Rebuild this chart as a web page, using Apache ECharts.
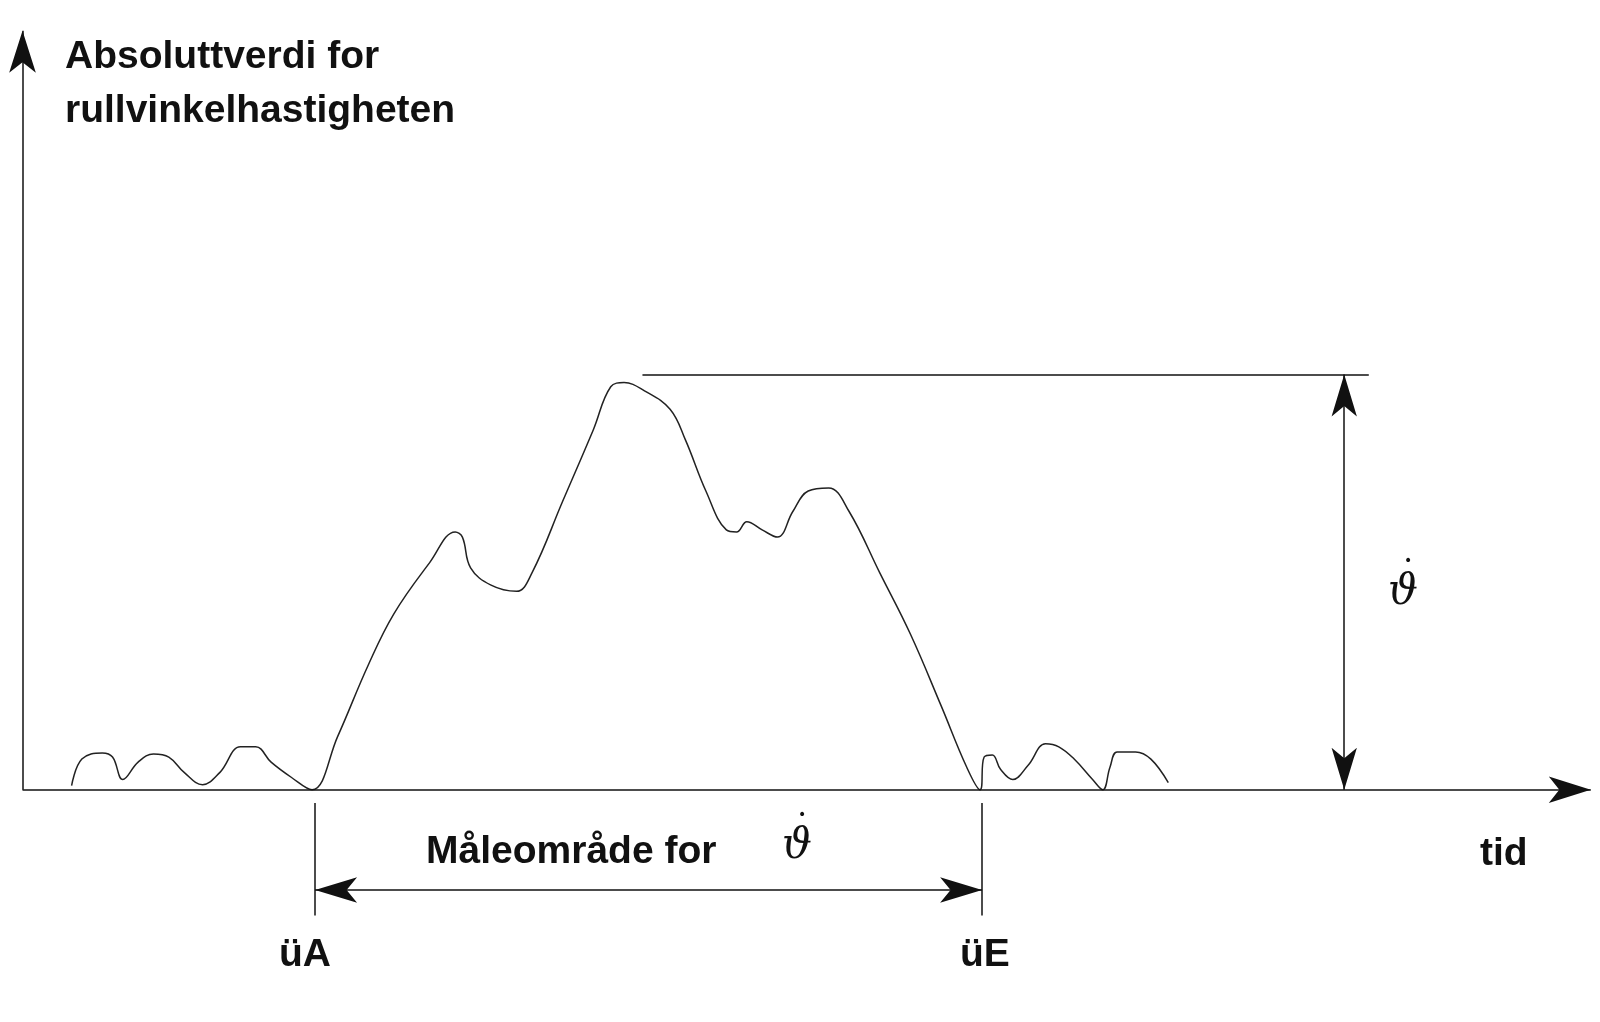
<!DOCTYPE html>
<html>
<head>
<meta charset="utf-8">
<script src="https://cdn.jsdelivr.net/npm/echarts@6/dist/echarts.min.js"></script>
<style>html,body{margin:0;background:#fff}#main{width:1600px;height:1022px}</style>
</head>
<body>
<div id="main"></div>
<script>
// signal curve, x = time, y = absolute roll rate (origin at the axis crossing)
const curveX = [48,58,78,88,98,113,128,143,158,176,193,213,228,243,263,283,308,338,363,398,423,430,438,458,483,498,528,558,575,588,608,633,648,668,688,698,708,723,738,753,768,788,808,838,868,898,923,936,940,948,956,968,983,1000,1013,1028,1046,1056,1063,1070,1088,1103,1120];
const curveY = [4,30,36,32,10,27,35,32,17,5,17,42,42,27,12,0,52,122,172,222,252,247,217,200,194,212,282,352,394,398,390,372,342,292,254,252,262,254,247,272,292,295,272,212,152,82,22,0,32,34,20,10,24,45,42,30,10,0,22,37,37,30,7];

// annotation lines: [x1, y1, x2, y2]
const peakLine = [606, 406, 1316, 406];
const rateArrow = [1292, 406, 1292, 0];
const tickA = [286, -13, 286, -123];
const tickE = [938, -13, 938, -123];
const rangeArrow = [286, -98, 938, -98];
const xAxisLine = [0, 0, 1533, 0];
const yAxisLine = [0, 0, 0, 742];

const p = (s, i) => ({ coord: [s[i * 2], s[i * 2 + 1]] });
const line = (s, a, b, size) => [
  { ...p(s, 0), symbol: a, symbolSize: size },
  { ...p(s, 1), symbol: b, symbolSize: size }
];

const chart = echarts.init(document.getElementById('main'));
chart.setOption({
  animation: false,
  grid: { left: 0, right: 0, top: 0, bottom: 0 },
  xAxis: { type: 'value', min: -22, max: 1542, show: false },
  yAxis: { type: 'value', min: -227, max: 772, show: false },
  series: [
    {
      type: 'line',
      data: curveX.map((x, i) => [x, curveY[i]]),
      smooth: 0.4,
      showSymbol: false,
      lineStyle: { color: '#222', width: 1.5 },
      markLine: {
        silent: true,
        label: { show: false },
        lineStyle: { color: '#111', width: 1.5, type: 'solid' },
        data: [
          line(xAxisLine, 'none', 'arrow', [20, 42]),
          line(yAxisLine, 'none', 'arrow', [20, 42]),
          line(peakLine, 'none', 'none', 0),
          line(rateArrow, 'arrow', 'arrow', [19, 42]),
          line(tickA, 'none', 'none', 0),
          line(tickE, 'none', 'none', 0),
          line(rangeArrow, 'arrow', 'arrow', [19, 42])
        ]
      }
    }
  ],
  graphic: [
    { type: 'text', left: 65, top: 30, style: { text: 'Absoluttverdi for\nrullvinkelhastigheten', font: 'bold 39px "Liberation Sans", Arial', lineHeight: 54, fill: '#111' } },
    { type: 'text', left: 426, top: 833, style: { text: 'Måleområde for', font: 'bold 39px "Liberation Sans", Arial', fill: '#111' } },
    { type: 'text', left: 782, top: 826, style: { text: 'ϑ', font: 'italic 42px "DejaVu Serif", serif', fill: '#111' } },
    { type: 'text', left: 798, top: 808, style: { text: '•', font: '14px "DejaVu Sans"', fill: '#111' } },
    { type: 'text', left: 1388, top: 572, style: { text: 'ϑ', font: 'italic 42px "DejaVu Serif", serif', fill: '#111' } },
    { type: 'text', left: 1404, top: 554, style: { text: '•', font: '14px "DejaVu Sans"', fill: '#111' } },
    { type: 'text', left: 1480, top: 835, style: { text: 'tid', font: 'bold 39px "Liberation Sans", Arial', fill: '#111' } },
    { type: 'text', left: 279, top: 936, style: { text: 'üA', font: 'bold 39px "Liberation Sans", Arial', fill: '#111' } },
    { type: 'text', left: 960, top: 936, style: { text: 'üE', font: 'bold 39px "Liberation Sans", Arial', fill: '#111' } }
  ]
});
</script>
</body>
</html>
